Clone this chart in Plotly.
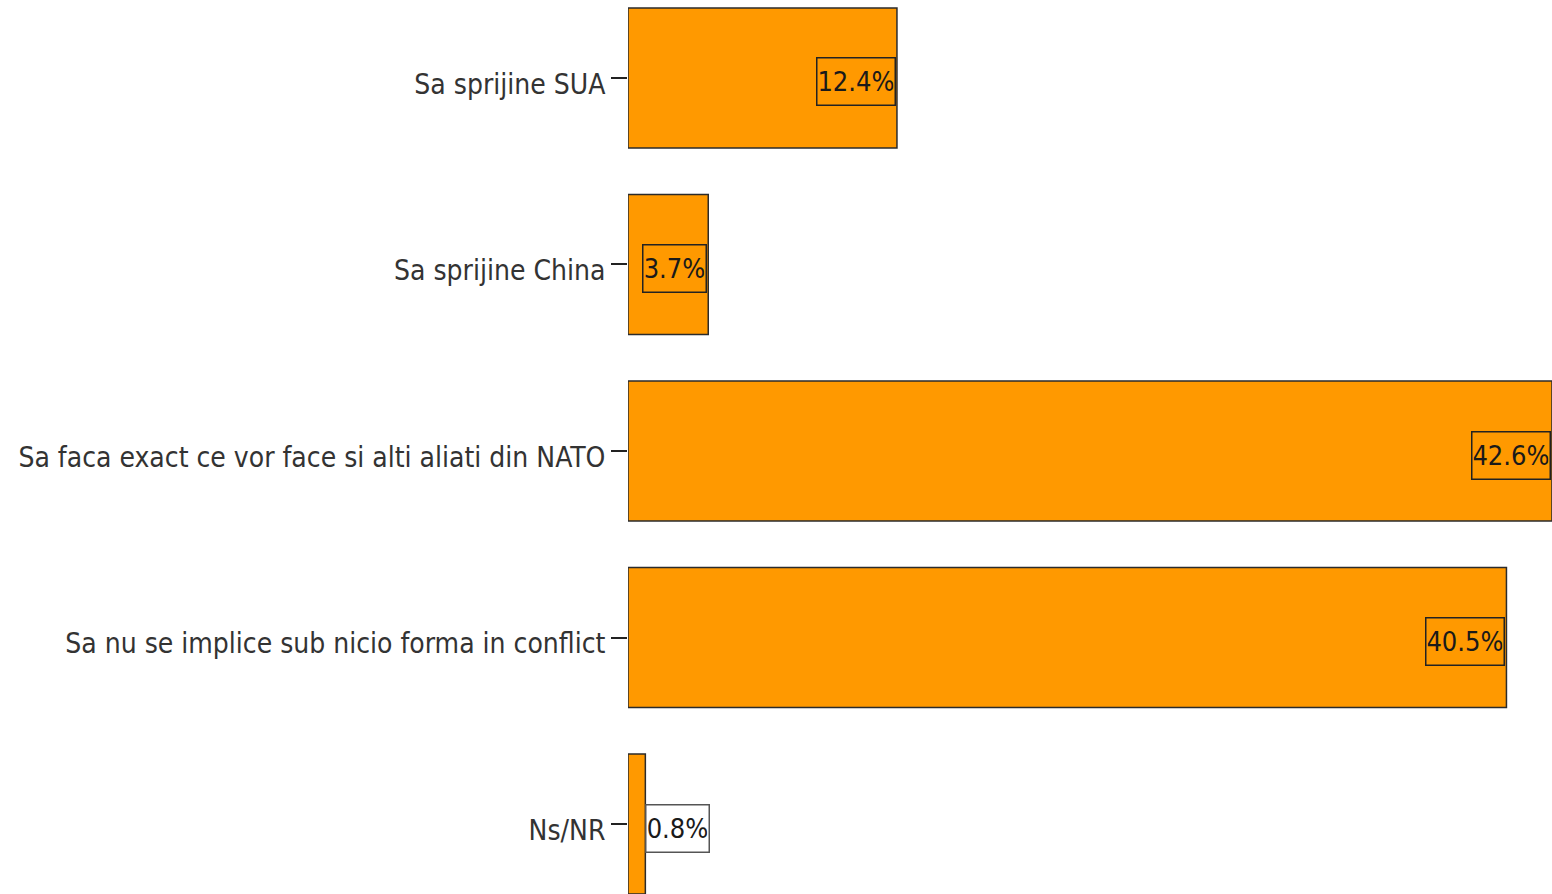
import plotly.graph_objects as go

categories = [
    "Sa sprijine SUA",
    "Sa sprijine China",
    "Sa faca exact ce vor face si alti aliati din NATO",
    "Sa nu se implice sub nicio forma in conflict",
    "Ns/NR",
]
values = [12.4, 3.7, 42.6, 40.5, 0.8]
labels = ["12.4%", "3.7%", "42.6%", "40.5%", "0.8%"]

FONT = "DejaVu Sans Condensed, Liberation Sans Narrow, sans-serif"
ORANGE = "#FF9900"

fig = go.Figure(
    go.Bar(
        x=values,
        y=list(range(len(categories))),
        orientation="h",
        width=0.75,
        marker=dict(color=ORANGE, line=dict(color="#2b2b2b", width=1.5)),
        hoverinfo="skip",
    )
)

for i, (v, lab) in enumerate(zip(values, labels)):
    inside = v > 2
    fig.add_annotation(
        x=v,
        y=i,
        xref="x",
        yref="y",
        text=lab,
        showarrow=False,
        xanchor="right" if inside else "left",
        yanchor="middle",
        xshift=-1 if inside else 0,
        yshift=-4,
        width=15 * len(lab),
        height=44,
        align="center",
        font=dict(family=FONT, size=27, color="#1a1a1a"),
        bgcolor=ORANGE if inside else "white",
        bordercolor="#222222" if inside else "#555555",
        borderwidth=1.5,
        borderpad=1,
    )

fig.update_layout(
    width=1552,
    height=894,
    margin=dict(l=628, r=0, t=0, b=0, autoexpand=False),
    paper_bgcolor="white",
    plot_bgcolor="white",
    showlegend=False,
    font=dict(family=FONT, size=28, color="#333333"),
    xaxis=dict(
        range=[0, 42.6],
        visible=False,
        showgrid=False,
        zeroline=False,
        fixedrange=True,
        automargin=False,
    ),
    yaxis=dict(
        range=[4.375, -0.418],
        tickmode="array",
        tickvals=list(range(len(categories))),
        ticktext=categories,
        ticks="outside",
        ticklen=16,
        tickwidth=1.5,
        tickcolor="#222222",
        ticklabelshift=-6,
        showgrid=False,
        zeroline=False,
        showline=False,
        automargin=False,
        tickfont=dict(family=FONT, size=28, color="#333333"),
        fixedrange=True,
    ),
)

fig.write_html(
    "out.html",
    config={"displayModeBar": False},
    post_script="document.body.style.margin='0';document.body.style.overflow='hidden';",
)
